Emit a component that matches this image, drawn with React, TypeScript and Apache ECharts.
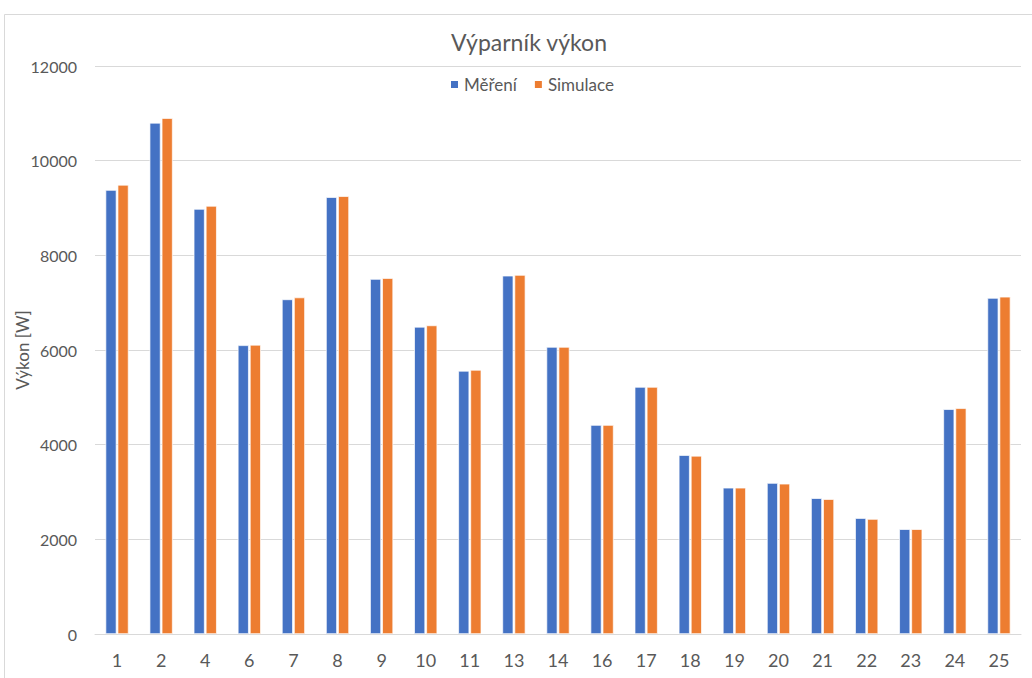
import React, { useEffect, useRef } from "react";
import * as echarts from "echarts";

const categories = ["1", "2", "4", "6", "7", "8", "9", "10", "11", "13", "14", "16", "17", "18", "19", "20", "21", "22", "23", "24", "25"];
const mereni = [9380, 10800, 8980, 6100, 7070, 9230, 7500, 6490, 5560, 7570, 6065, 4415, 5220, 3780, 3090, 3190, 2870, 2450, 2215, 4750, 7100];
const simulace = [9490, 10900, 9045, 6110, 7110, 9250, 7520, 6520, 5580, 7585, 6065, 4415, 5220, 3765, 3090, 3175, 2850, 2430, 2215, 4770, 7125];
const yTicks = { min: 0, max: 12000, interval: 2000 };

export default function App() {
  const ref = useRef<HTMLDivElement>(null);
  useEffect(() => {
    document.body.style.margin = "0";
    const chart = echarts.init(ref.current!, null, { renderer: "svg" });
    const font = "Lato, 'Liberation Sans', sans-serif";
    chart.setOption({
      animation: false,
      backgroundColor: "#ffffff",
      textStyle: { fontFamily: font },
      title: {
        text: "Výparník výkon",
        left: 446,
        top: 25,
        textStyle: { fontFamily: font, fontSize: 23, fontWeight: "normal", color: "#595959" },
      },
      legend: {
        top: 71,
        left: 444,
        itemWidth: 9,
        itemHeight: 9,
        itemGap: 16,
        icon: "rect",
        textStyle: { fontFamily: font, fontSize: 17, color: "#595959" },
        data: ["Měření", "Simulace"],
      },
      graphic: [
        {
          type: "rect",
          shape: { x: 4.5, y: 14.5, width: 1060, height: 720 },
          style: { fill: "none", stroke: "#D9D9D9", lineWidth: 1 },
          silent: true,
        },
      ],
      grid: { left: 95, right: 11, top: 66, bottom: 44, containLabel: false, outerBoundsMode: "none" },
      xAxis: {
        type: "category",
        data: categories,
        axisTick: { show: false },
        axisLine: { lineStyle: { color: "#D9D9D9", width: 1 } },
        axisLabel: { fontFamily: font, fontSize: 18, color: "#595959", margin: 17 },
      },
      yAxis: {
        type: "value",
        min: yTicks.min,
        max: yTicks.max,
        interval: yTicks.interval,
        name: "Výkon [W]",
        nameLocation: "middle",
        nameGap: 64,
        nameMoveOverlap: false,
        nameTextStyle: { fontFamily: font, fontSize: 17, color: "#595959" },
        axisLine: { show: false },
        axisTick: { show: false },
        splitLine: { lineStyle: { color: "#D9D9D9", width: 1 } },
        axisLabel: {
          fontFamily: font,
          fontSize: 16,
          color: "#595959",
          margin: 18,
          formatter: (v: number) => String(v),
        },
      },
      series: [
        {
          name: "Měření",
          type: "bar",
          data: mereni,
          barWidth: 11,
          barGap: "10%",
          itemStyle: { color: "#4472C4", borderColor: "#ffffff", borderWidth: 0.7 },
        },
        {
          name: "Simulace",
          type: "bar",
          data: simulace,
          barWidth: 11,
          itemStyle: { color: "#ED7D31", borderColor: "#ffffff", borderWidth: 0.7 },
        },
      ],
    });
    return () => chart.dispose();
  }, []);
  return <div ref={ref} style={{ position: "absolute", left: 0, top: 0, width: 1032, height: 678 }} />;
}
